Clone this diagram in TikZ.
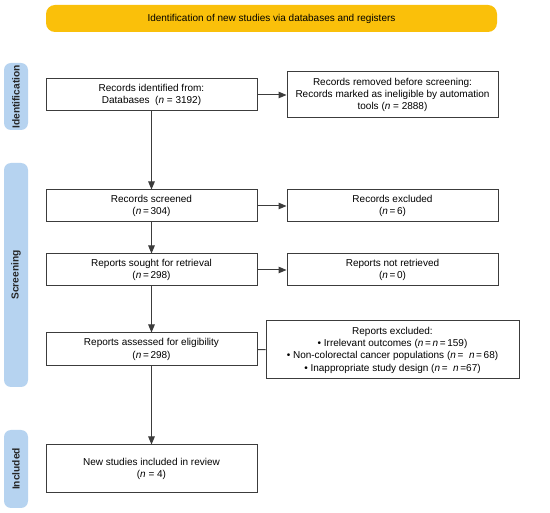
\documentclass[tikz,border=0pt]{standalone}
\usepackage{fontspec}
\setmainfont{Liberation Sans}
\usetikzlibrary{arrows.meta}
\definecolor{banner}{RGB}{250,192,10}
\definecolor{side}{RGB}{182,211,240}
\definecolor{edge}{RGB}{60,60,60}
\begin{document}
\begin{tikzpicture}[x=1pt,y=-1pt,
  box/.style={draw=edge,line width=1pt,rectangle,align=center,inner sep=0pt,font=\fontsize{10}{12.3}\selectfont},
  sidelabel/.style={fill=side,rounded corners=7pt,inner sep=0pt},
  sidetext/.style={rotate=90,font=\bfseries\fontsize{10.2}{12}\selectfont,text=black!85},
  conn/.style={draw=edge,line width=1pt},
  arr/.style={conn,-{Triangle[length=8pt,width=6.5pt]}}]
\useasboundingbox (0,0) rectangle (550,513);
\fill[white] (0,0) rectangle (550,513);
% banner
\node[fill=banner,rounded corners=9pt,minimum width=451pt,minimum height=27pt,inner sep=0pt,font=\fontsize{10}{12}\selectfont] (title) at (271.5,18.5) {Identification of new studies via databases and registers};
% side labels
\node[sidelabel,minimum width=24pt,minimum height=67pt] (sid) at (16,96.5) {};
\node[sidetext] (sidt) at (16,97) {Identification};
\node[sidelabel,minimum width=24pt,minimum height=224pt] (sscr) at (16,275) {};
\node[sidetext] (sscrt) at (16,275) {Screening};
\node[sidelabel,minimum width=24pt,minimum height=78pt] (sinc) at (16,469) {};
\node[sidetext] (sinct) at (16,469) {Included};
% boxes
\node[box,minimum width=211pt,minimum height=32pt] (ident) at (151.5,95) {Records identified from:\\Databases\ \ (\textit{n} = 3192)};
\node[box,minimum width=211pt,minimum height=46pt] (removed) at (392.5,95) {Records removed before screening:\\Records marked as ineligible by automation\\tools (\textit{n} = 2888)};
\node[box,minimum width=211pt,minimum height=32pt] (screened) at (151.5,206) {Records screened\\(\textit{n}\,=\,304)};
\node[box,minimum width=211pt,minimum height=32pt] (excl) at (392.5,206) {Records excluded\\(\textit{n}\,=\,6)};
\node[box,minimum width=211pt,minimum height=32pt] (sought) at (151.5,270) {Reports sought for retrieval\\(\textit{n}\,=\,298)};
\node[box,minimum width=211pt,minimum height=32pt] (notret) at (392.5,270) {Reports not retrieved\\(\textit{n}\,=\,0)};
\node[box,minimum width=211pt,minimum height=33pt] (assessed) at (151.5,349.5) {Reports assessed for eligibility\\(\textit{n}\,=\,298)};
\node[box,minimum width=253pt,minimum height=58pt] (repexcl) at (392.5,350) {Reports excluded:\\• Irrelevant outcomes (\textit{n}\,=\,\textit{n}\,=\,159)\\• Non-colorectal cancer populations (\textit{n}\,= \ \textit{n}\,=\,68)\\• Inappropriate study design (\textit{n}\,= \ \textit{n}\,=67)};
\node[box,minimum width=211pt,minimum height=48pt] (incl) at (151.5,469) {New studies included in review\\(\textit{n} = 4)};
% connectors
\draw[arr] (ident) -- (removed);
\draw[arr] (ident) -- (screened);
\draw[arr] (screened) -- (excl);
\draw[arr] (screened) -- (sought);
\draw[arr] (sought) -- (notret);
\draw[arr] (sought) -- (assessed);
\draw[conn] (assessed) -- (repexcl);
\draw[arr] (assessed) -- (incl);
\end{tikzpicture}
\end{document}
